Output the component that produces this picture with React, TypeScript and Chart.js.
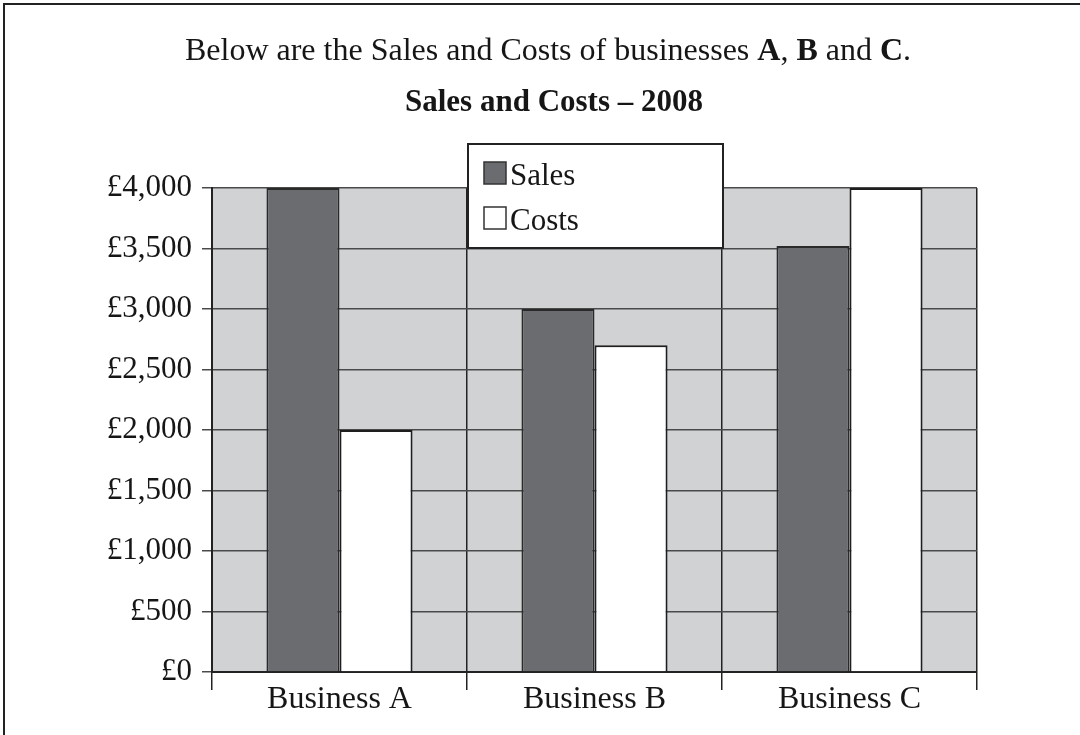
import React, { useEffect, useRef } from "react";
import { Chart, registerables } from "chart.js";

Chart.register(...registerables);

// ---- data ----
const categories = ["Business A", "Business B", "Business C"];
const seriesNames = ["Sales", "Costs"];
const salesValues = [4000, 3000, 3520];
const costsValues = [2000, 2700, 4000];
const yTickValues = [0, 500, 1000, 1500, 2000, 2500, 3000, 3500, 4000];
const currencySymbol = "£";
const introSegments = [
  { text: "Below are the Sales and Costs of businesses ", bold: false },
  { text: "A", bold: true },
  { text: ", ", bold: false },
  { text: "B", bold: true },
  { text: " and ", bold: false },
  { text: "C", bold: true },
  { text: ".", bold: false },
];
const chartTitle = "Sales and Costs – 2008";

// ---- styles ----
const SERIF = '"Liberation Serif", "Times New Roman", serif';
const SALES_COLOR = "#6b6c70";
const COSTS_COLOR = "#ffffff";
const PLOT_BG = "#d1d2d4";
const INK = "#161616";

const decorPlugin = {
  id: "decor",
  beforeDraw(chart: any) {
    const { ctx, chartArea: a } = chart;
    ctx.save();
    ctx.fillStyle = "#ffffff";
    ctx.fillRect(0, 0, chart.width, chart.height);
    // page frame (top & left visible)
    ctx.fillStyle = "#222";
    ctx.fillRect(3, 3, chart.width - 3, 2);
    ctx.fillRect(3, 3, 2, chart.height - 3);
    // plot background
    ctx.fillStyle = PLOT_BG;
    ctx.fillRect(a.left, a.top, a.right - a.left, a.bottom - a.top);
    ctx.restore();
  },
  afterDraw(chart: any) {
    const { ctx } = chart;
    ctx.save();
    ctx.fillStyle = INK;
    ctx.textBaseline = "alphabetic";
    ctx.textAlign = "left";
    // intro line with bold letters
    const normal = `32px ${SERIF}`;
    const bold = `bold 32px ${SERIF}`;
    let total = 0;
    const widths = introSegments.map((s) => {
      ctx.font = s.bold ? bold : normal;
      const w = ctx.measureText(s.text).width;
      total += w;
      return w;
    });
    let x = 548 - total / 2;
    introSegments.forEach((s, i) => {
      ctx.font = s.bold ? bold : normal;
      ctx.fillText(s.text, x, 60);
      x += widths[i];
    });
    // chart title
    ctx.font = `bold 31px ${SERIF}`;
    ctx.textAlign = "center";
    ctx.fillText(chartTitle, 554, 111);

    // legend box
    const bx = 468, by = 144, bw = 255, bh = 104;
    ctx.fillStyle = "#ffffff";
    ctx.fillRect(bx, by, bw, bh);
    ctx.strokeStyle = "#222";
    ctx.lineWidth = 2;
    ctx.strokeRect(bx, by, bw, bh);
    ctx.textAlign = "left";
    ctx.font = `31px ${SERIF}`;
    chart.data.datasets.forEach((ds: any, i: number) => {
      const sy = 162 + i * 45;
      ctx.fillStyle = ds.backgroundColor;
      ctx.fillRect(484, sy, 22, 22);
      ctx.strokeStyle = "#333";
      ctx.lineWidth = 1.5;
      ctx.strokeRect(484, sy, 22, 22);
      ctx.fillStyle = INK;
      ctx.fillText(ds.label, 510, sy + 23);
    });
    ctx.restore();
  },
};

export default function App() {
  const canvasRef = useRef<HTMLCanvasElement | null>(null);

  useEffect(() => {
    if (!canvasRef.current) return;
    const chart = new Chart(canvasRef.current, {
      type: "bar",
      data: {
        labels: categories,
        datasets: [
          {
            label: seriesNames[0],
            data: salesValues,
            backgroundColor: SALES_COLOR,
            borderColor: "#2a2a2a",
            borderWidth: 2,
            categoryPercentage: 0.573,
            barPercentage: 1.0,
          },
          {
            label: seriesNames[1],
            data: costsValues,
            backgroundColor: COSTS_COLOR,
            borderColor: "#1e1e1e",
            borderWidth: 2,
            categoryPercentage: 0.573,
            barPercentage: 1.0,
          },
        ],
      },
      options: {
        responsive: false,
        animation: false,
        devicePixelRatio: window.devicePixelRatio || 1,
        layout: {
          autoPadding: false,
          padding: { left: 0, right: 103, top: 188, bottom: 0 },
        },
        plugins: {
          legend: { display: false },
          title: { display: false },
          tooltip: { enabled: false },
        },
        scales: {
          x: {
            offset: true,
            grid: {
              offset: true,
              color: "#222",
              lineWidth: 1.5,
              tickLength: 18,
              drawTicks: true,
            },
            border: { color: "#222", width: 2 },
            ticks: {
              color: INK,
              padding: -6,
              font: { family: SERIF, size: 32, lineHeight: 1 },
              maxRotation: 0,
            },
            afterFit: (s: any) => {
              s.height = 63;
            },
          },
          y: {
            min: 0,
            max: 4000,
            grid: {
              color: "#4a4a4a",
              lineWidth: 1.5,
              tickLength: 10,
              drawTicks: true,
            },
            border: { color: "#222", width: 2 },
            ticks: {
              color: INK,
              padding: 10,
              font: { family: SERIF, size: 31, lineHeight: 1 },
              callback: (v: any) =>
                currencySymbol + Number(v).toLocaleString("en-GB"),
            },
            afterBuildTicks: (s: any) => {
              s.ticks = yTickValues.map((v) => ({ value: v }));
            },
            afterFit: (s: any) => {
              s.width = 212;
            },
          },
        },
      },
      plugins: [decorPlugin],
    });
    return () => chart.destroy();
  }, []);

  return (
    <div
      style={{
        position: "absolute",
        left: 0,
        top: 0,
        width: 1080,
        height: 735,
        overflow: "hidden",
        background: "#fff",
      }}
    >
      <canvas
        ref={canvasRef}
        width={1080}
        height={735}
        style={{ display: "block", width: 1080, height: 735 }}
      />
    </div>
  );
}
